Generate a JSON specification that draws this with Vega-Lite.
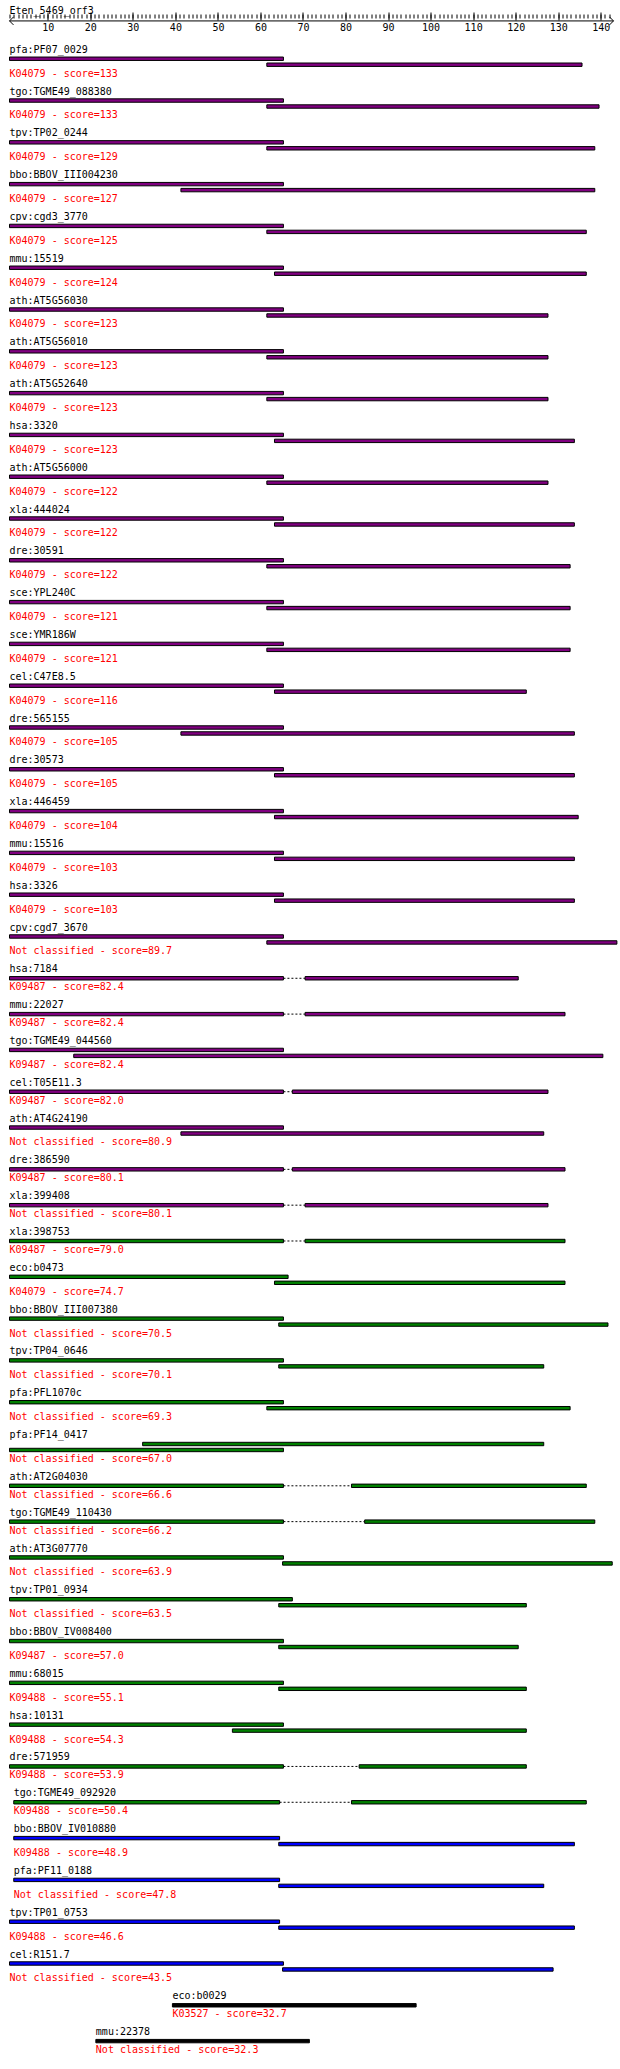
{
  "$schema": "https://vega.github.io/schema/vega-lite/v6.json",
  "width": 604,
  "height": 2069,
  "autosize": {"type": "none"},
  "padding": {"left": 9.5, "top": 0, "right": 6.5, "bottom": 0},
  "background": "white",
  "config": {"view": {"stroke": null}, "text": {"font": "DejaVu Sans Mono", "fontSize": 10}},
  "datasets": {
    "header": [{"query": "Eten_5469_orf3", "from": 1, "to": 143}],
    "entries": [
      {"row": 1, "name": "pfa:PF07_0029", "desc": "K04079 - score=133", "score": 133, "lanes": 2, "s1": 1, "e1": 65.4, "s2": 61.5, "e2": 135.6},
      {"row": 2, "name": "tgo:TGME49_088380", "desc": "K04079 - score=133", "score": 133, "lanes": 2, "s1": 1, "e1": 65.4, "s2": 61.5, "e2": 139.6},
      {"row": 3, "name": "tpv:TP02_0244", "desc": "K04079 - score=129", "score": 129, "lanes": 2, "s1": 1, "e1": 65.4, "s2": 61.5, "e2": 138.6},
      {"row": 4, "name": "bbo:BBOV_III004230", "desc": "K04079 - score=127", "score": 127, "lanes": 2, "s1": 1, "e1": 65.4, "s2": 41.3, "e2": 138.6},
      {"row": 5, "name": "cpv:cgd3_3770", "desc": "K04079 - score=125", "score": 125, "lanes": 2, "s1": 1, "e1": 65.4, "s2": 61.5, "e2": 136.6},
      {"row": 6, "name": "mmu:15519", "desc": "K04079 - score=124", "score": 124, "lanes": 2, "s1": 1, "e1": 65.4, "s2": 63.3, "e2": 136.6},
      {"row": 7, "name": "ath:AT5G56030", "desc": "K04079 - score=123", "score": 123, "lanes": 2, "s1": 1, "e1": 65.4, "s2": 61.5, "e2": 127.6},
      {"row": 8, "name": "ath:AT5G56010", "desc": "K04079 - score=123", "score": 123, "lanes": 2, "s1": 1, "e1": 65.4, "s2": 61.5, "e2": 127.6},
      {"row": 9, "name": "ath:AT5G52640", "desc": "K04079 - score=123", "score": 123, "lanes": 2, "s1": 1, "e1": 65.4, "s2": 61.5, "e2": 127.6},
      {"row": 10, "name": "hsa:3320", "desc": "K04079 - score=123", "score": 123, "lanes": 2, "s1": 1, "e1": 65.4, "s2": 63.3, "e2": 133.8},
      {"row": 11, "name": "ath:AT5G56000", "desc": "K04079 - score=122", "score": 122, "lanes": 2, "s1": 1, "e1": 65.4, "s2": 61.5, "e2": 127.6},
      {"row": 12, "name": "xla:444024", "desc": "K04079 - score=122", "score": 122, "lanes": 2, "s1": 1, "e1": 65.4, "s2": 63.3, "e2": 133.8},
      {"row": 13, "name": "dre:30591", "desc": "K04079 - score=122", "score": 122, "lanes": 2, "s1": 1, "e1": 65.4, "s2": 61.5, "e2": 132.8},
      {"row": 14, "name": "sce:YPL240C", "desc": "K04079 - score=121", "score": 121, "lanes": 2, "s1": 1, "e1": 65.4, "s2": 61.5, "e2": 132.8},
      {"row": 15, "name": "sce:YMR186W", "desc": "K04079 - score=121", "score": 121, "lanes": 2, "s1": 1, "e1": 65.4, "s2": 61.5, "e2": 132.8},
      {"row": 16, "name": "cel:C47E8.5", "desc": "K04079 - score=116", "score": 116, "lanes": 2, "s1": 1, "e1": 65.4, "s2": 63.3, "e2": 122.5},
      {"row": 17, "name": "dre:565155", "desc": "K04079 - score=105", "score": 105, "lanes": 2, "s1": 1, "e1": 65.4, "s2": 41.3, "e2": 133.8},
      {"row": 18, "name": "dre:30573", "desc": "K04079 - score=105", "score": 105, "lanes": 2, "s1": 1, "e1": 65.4, "s2": 63.3, "e2": 133.8},
      {"row": 19, "name": "xla:446459", "desc": "K04079 - score=104", "score": 104, "lanes": 2, "s1": 1, "e1": 65.4, "s2": 63.3, "e2": 134.7},
      {"row": 20, "name": "mmu:15516", "desc": "K04079 - score=103", "score": 103, "lanes": 2, "s1": 1, "e1": 65.4, "s2": 63.3, "e2": 133.8},
      {"row": 21, "name": "hsa:3326", "desc": "K04079 - score=103", "score": 103, "lanes": 2, "s1": 1, "e1": 65.4, "s2": 63.3, "e2": 133.8},
      {"row": 22, "name": "cpv:cgd7_3670", "desc": "Not classified - score=89.7", "score": 89.7, "lanes": 2, "s1": 1, "e1": 65.4, "s2": 61.5, "e2": 143.8},
      {"row": 23, "name": "hsa:7184", "desc": "K09487 - score=82.4", "score": 82.4, "lanes": 1, "s1": 1, "e1": 65.4, "s2": 70.5, "e2": 120.6},
      {"row": 24, "name": "mmu:22027", "desc": "K09487 - score=82.4", "score": 82.4, "lanes": 1, "s1": 1, "e1": 65.4, "s2": 70.5, "e2": 131.6},
      {"row": 25, "name": "tgo:TGME49_044560", "desc": "K09487 - score=82.4", "score": 82.4, "lanes": 2, "s1": 1, "e1": 65.4, "s2": 16.1, "e2": 140.5},
      {"row": 26, "name": "cel:T05E11.3", "desc": "K09487 - score=82.0", "score": 82.0, "lanes": 1, "s1": 1, "e1": 65.4, "s2": 67.5, "e2": 127.6},
      {"row": 27, "name": "ath:AT4G24190", "desc": "Not classified - score=80.9", "score": 80.9, "lanes": 2, "s1": 1, "e1": 65.4, "s2": 41.3, "e2": 126.6},
      {"row": 28, "name": "dre:386590", "desc": "K09487 - score=80.1", "score": 80.1, "lanes": 1, "s1": 1, "e1": 65.4, "s2": 67.5, "e2": 131.6},
      {"row": 29, "name": "xla:399408", "desc": "Not classified - score=80.1", "score": 80.1, "lanes": 1, "s1": 1, "e1": 65.4, "s2": 70.5, "e2": 127.6},
      {"row": 30, "name": "xla:398753", "desc": "K09487 - score=79.0", "score": 79.0, "lanes": 1, "s1": 1, "e1": 65.4, "s2": 70.5, "e2": 131.6},
      {"row": 31, "name": "eco:b0473", "desc": "K04079 - score=74.7", "score": 74.7, "lanes": 2, "s1": 1, "e1": 66.5, "s2": 63.3, "e2": 131.6},
      {"row": 32, "name": "bbo:BBOV_III007380", "desc": "Not classified - score=70.5", "score": 70.5, "lanes": 2, "s1": 1, "e1": 65.4, "s2": 64.3, "e2": 141.7},
      {"row": 33, "name": "tpv:TP04_0646", "desc": "Not classified - score=70.1", "score": 70.1, "lanes": 2, "s1": 1, "e1": 65.4, "s2": 64.3, "e2": 126.6},
      {"row": 34, "name": "pfa:PFL1070c", "desc": "Not classified - score=69.3", "score": 69.3, "lanes": 2, "s1": 1, "e1": 65.4, "s2": 61.5, "e2": 132.8},
      {"row": 35, "name": "pfa:PF14_0417", "desc": "Not classified - score=67.0", "score": 67.0, "lanes": 2, "s1": 32.3, "e1": 126.6, "s2": 1, "e2": 65.4},
      {"row": 36, "name": "ath:AT2G04030", "desc": "Not classified - score=66.6", "score": 66.6, "lanes": 1, "s1": 1, "e1": 65.4, "s2": 81.4, "e2": 136.6},
      {"row": 37, "name": "tgo:TGME49_110430", "desc": "Not classified - score=66.2", "score": 66.2, "lanes": 1, "s1": 1, "e1": 65.4, "s2": 84.5, "e2": 138.6},
      {"row": 38, "name": "ath:AT3G07770", "desc": "Not classified - score=63.9", "score": 63.9, "lanes": 2, "s1": 1, "e1": 65.4, "s2": 65.2, "e2": 142.7},
      {"row": 39, "name": "tpv:TP01_0934", "desc": "Not classified - score=63.5", "score": 63.5, "lanes": 2, "s1": 1, "e1": 67.5, "s2": 64.3, "e2": 122.5},
      {"row": 40, "name": "bbo:BBOV_IV008400", "desc": "K09487 - score=57.0", "score": 57.0, "lanes": 2, "s1": 1, "e1": 65.4, "s2": 64.3, "e2": 120.6},
      {"row": 41, "name": "mmu:68015", "desc": "K09488 - score=55.1", "score": 55.1, "lanes": 2, "s1": 1, "e1": 65.4, "s2": 64.3, "e2": 122.5},
      {"row": 42, "name": "hsa:10131", "desc": "K09488 - score=54.3", "score": 54.3, "lanes": 2, "s1": 1, "e1": 65.4, "s2": 53.4, "e2": 122.5},
      {"row": 43, "name": "dre:571959", "desc": "K09488 - score=53.9", "score": 53.9, "lanes": 1, "s1": 1, "e1": 65.4, "s2": 83.2, "e2": 122.5},
      {"row": 44, "name": "tgo:TGME49_092920", "desc": "K09488 - score=50.4", "score": 50.4, "lanes": 1, "s1": 2, "e1": 64.5, "s2": 81.4, "e2": 136.6},
      {"row": 45, "name": "bbo:BBOV_IV010880", "desc": "K09488 - score=48.9", "score": 48.9, "lanes": 2, "s1": 2, "e1": 64.5, "s2": 64.3, "e2": 133.8},
      {"row": 46, "name": "pfa:PF11_0188", "desc": "Not classified - score=47.8", "score": 47.8, "lanes": 2, "s1": 2, "e1": 64.5, "s2": 64.3, "e2": 126.6},
      {"row": 47, "name": "tpv:TP01_0753", "desc": "K09488 - score=46.6", "score": 46.6, "lanes": 2, "s1": 1, "e1": 64.5, "s2": 64.3, "e2": 133.8},
      {"row": 48, "name": "cel:R151.7", "desc": "Not classified - score=43.5", "score": 43.5, "lanes": 2, "s1": 1, "e1": 65.4, "s2": 65.2, "e2": 128.8},
      {"row": 49, "name": "eco:b0029", "desc": "K03527 - score=32.7", "score": 32.7, "lanes": 1, "s1": 39.3, "e1": 96.6, "s2": null, "e2": null},
      {"row": 50, "name": "mmu:22378", "desc": "Not classified - score=32.3", "score": 32.3, "lanes": 1, "s1": 21.3, "e1": 71.5, "s2": null, "e2": null}
    ]
  },
  "resolve": {"axis": {"x": "independent"}},
  "layer": [
    {
      "data": {"name": "header"},
      "mark": {"type": "text", "align": "left", "baseline": "middle", "color": "black", "font": "DejaVu Sans Mono", "fontSize": 10},
      "encoding": {
        "x": {"field": "from", "type": "quantitative", "scale": {"domain": [1, 143], "nice": false, "zero": false},
          "axis": {"orient": "bottom", "offset": -2057, "values": [10, 20, 30, 40, 50, 60, 70, 80, 90, 100, 110, 120, 130, 140],
            "tickSize": 8, "tickColor": "black", "tickWidth": 1, "domain": false, "grid": false, "title": null,
            "labelFont": "DejaVu Sans Mono", "labelFontSize": 10, "labelColor": "black", "labelBaseline": "middle", "labelPadding": 7,
            "labelFlush": false, "labelOverlap": false}},
        "y": {"datum": -6.5, "type": "quantitative", "scale": {"domain": [-7.5, 337.3333], "reverse": true, "nice": false, "zero": false}, "axis": null},
        "text": {"field": "query"}
      }
    },
    {
      "data": {"name": "header"},
      "mark": {"type": "rule", "color": "black", "strokeWidth": 1},
      "encoding": {
        "x": {"field": "from", "type": "quantitative", "scale": {"domain": [1, 143], "nice": false, "zero": false},
          "axis": {"orient": "bottom", "offset": -2055,
            "values": [1,2,3,4,5,6,7,8,9,10,11,12,13,14,15,16,17,18,19,20,21,22,23,24,25,26,27,28,29,30,31,32,33,34,35,36,37,38,39,40,41,42,43,44,45,46,47,48,49,50,51,52,53,54,55,56,57,58,59,60,61,62,63,64,65,66,67,68,69,70,71,72,73,74,75,76,77,78,79,80,81,82,83,84,85,86,87,88,89,90,91,92,93,94,95,96,97,98,99,100,101,102,103,104,105,106,107,108,109,110,111,112,113,114,115,116,117,118,119,120,121,122,123,124,125,126,127,128,129,130,131,132,133,134,135,136,137,138,139,140,141,142],
            "tickSize": 4, "tickColor": "black", "tickWidth": 1, "labels": false, "domain": false, "grid": false, "title": null}},
        "x2": {"field": "to"},
        "y": {"datum": -4.8333, "type": "quantitative", "scale": {"domain": [-7.5, 337.3333], "reverse": true, "nice": false, "zero": false}, "axis": null}
      }
    },
    {
      "data": {"name": "header"},
      "mark": {"type": "point", "shape": "M1,-1L0,0L1,1", "size": 64, "filled": false, "stroke": "black", "strokeWidth": 1, "opacity": 1},
      "encoding": {
        "x": {"field": "from", "type": "quantitative", "scale": {"domain": [1, 143], "nice": false, "zero": false}, "axis": null},
        "y": {"datum": -4.8333, "type": "quantitative", "scale": {"domain": [-7.5, 337.3333], "reverse": true, "nice": false, "zero": false}, "axis": null}
      }
    },
    {
      "data": {"name": "header"},
      "mark": {"type": "point", "shape": "M-1,-1L0,0L-1,1", "size": 64, "filled": false, "stroke": "black", "strokeWidth": 1, "opacity": 1},
      "encoding": {
        "x": {"field": "to", "type": "quantitative", "scale": {"domain": [1, 143], "nice": false, "zero": false}, "axis": null},
        "y": {"datum": -4.8333, "type": "quantitative", "scale": {"domain": [-7.5, 337.3333], "reverse": true, "nice": false, "zero": false}, "axis": null}
      }
    },
    {
      "data": {"name": "entries"},
      "transform": [
        {"window": [{"op": "sum", "field": "lanes", "as": "cumLanes"}], "sort": [{"field": "row", "order": "ascending"}], "frame": [null, 0]},
        {"calculate": "5 * (datum.row - 1) + datum.cumLanes - datum.lanes", "as": "pos"},
        {"calculate": "datum.pos + 1.5", "as": "yA"},
        {"calculate": "datum.pos + 0.5 + datum.lanes", "as": "yB"},
        {"calculate": "datum.pos + 2 + datum.lanes", "as": "yD"},
        {"calculate": "isValid(datum.s2) ? min(datum.s1, datum.s2) : datum.s1", "as": "labelAt"}
      ],
      "layer": [
        {
          "mark": {"type": "text", "align": "left", "baseline": "middle", "color": "black", "font": "DejaVu Sans Mono", "fontSize": 10},
          "encoding": {
            "x": {"field": "labelAt", "type": "quantitative", "scale": {"domain": [1, 143], "nice": false, "zero": false}, "axis": null},
            "y": {"field": "pos", "type": "quantitative", "scale": {"domain": [-7.5, 337.3333], "reverse": true, "nice": false, "zero": false}, "axis": null},
            "text": {"field": "name"}
          }
        },
        {
          "transform": [{"filter": "datum.lanes == 1 && isValid(datum.s2)"}],
          "mark": {"type": "rule", "color": "black", "strokeWidth": 1, "strokeDash": [2, 2]},
          "encoding": {
            "x": {"field": "e1", "type": "quantitative", "scale": {"domain": [1, 143], "nice": false, "zero": false}, "axis": null},
            "x2": {"field": "s2"},
            "y": {"field": "yA", "type": "quantitative", "scale": {"domain": [-7.5, 337.3333], "reverse": true, "nice": false, "zero": false}, "axis": null}
          }
        },
        {
          "mark": {"type": "bar", "orient": "horizontal", "size": 3.4, "stroke": "black", "strokeWidth": 1},
          "encoding": {
            "x": {"field": "s1", "type": "quantitative", "scale": {"domain": [1, 143], "nice": false, "zero": false}, "axis": null},
            "x2": {"field": "e1"},
            "y": {"field": "yA", "type": "quantitative", "scale": {"domain": [-7.5, 337.3333], "reverse": true, "nice": false, "zero": false}, "axis": null},
            "color": {"field": "score", "type": "quantitative", "scale": {"type": "threshold", "domain": [40, 50, 80], "range": ["#000000", "#0000ff", "#008000", "#800080"]}, "legend": null}
          }
        },
        {
          "transform": [{"filter": "isValid(datum.s2)"}],
          "mark": {"type": "bar", "orient": "horizontal", "size": 3.4, "stroke": "black", "strokeWidth": 1},
          "encoding": {
            "x": {"field": "s2", "type": "quantitative", "scale": {"domain": [1, 143], "nice": false, "zero": false}, "axis": null},
            "x2": {"field": "e2"},
            "y": {"field": "yB", "type": "quantitative", "scale": {"domain": [-7.5, 337.3333], "reverse": true, "nice": false, "zero": false}, "axis": null},
            "color": {"field": "score", "type": "quantitative", "scale": {"type": "threshold", "domain": [40, 50, 80], "range": ["#000000", "#0000ff", "#008000", "#800080"]}, "legend": null}
          }
        },
        {
          "mark": {"type": "text", "align": "left", "baseline": "middle", "color": "#ff0000", "font": "DejaVu Sans Mono", "fontSize": 10},
          "encoding": {
            "x": {"field": "labelAt", "type": "quantitative", "scale": {"domain": [1, 143], "nice": false, "zero": false}, "axis": null},
            "y": {"field": "yD", "type": "quantitative", "scale": {"domain": [-7.5, 337.3333], "reverse": true, "nice": false, "zero": false}, "axis": null},
            "text": {"field": "desc"}
          }
        }
      ]
    }
  ]
}
